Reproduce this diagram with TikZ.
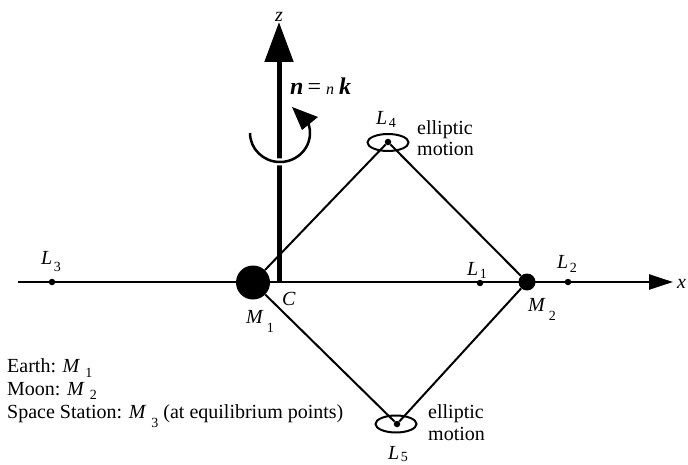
\documentclass[tikz,border=0pt]{standalone}
\usepackage{fontspec}
\setmainfont{Liberation Serif}
\usetikzlibrary{arrows.meta,shapes.geometric}
\newcommand\sbx[3][4]{\kern#2pt\raisebox{-#1pt}{\fontsize{14}{14}\selectfont #3}}
\begin{document}
\begin{tikzpicture}[x=1pt,y=-1pt,
  txt/.style={inner sep=0pt, font=\fontsize{20}{23}\selectfont},
  dot/.style={circle, fill=black, inner sep=0pt, minimum size=6.5pt},
  mass/.style={circle, fill=black, inner sep=0pt},
  edgeln/.style={line width=2pt},
  orbit/.style={draw, ellipse, line width=2pt, minimum width=41pt, minimum height=17pt, inner sep=0pt}
]
\useasboundingbox (0,0) rectangle (688,465);
% axis coordinates
\coordinate (xs) at (18,282);
\coordinate (xe) at (673,282);
\coordinate (C) at (279,282);
\coordinate (ze) at (279,22);
% x axis
\draw[line width=2.5pt, -{Triangle[length=24pt,width=15pt]}] (xs) -- (xe);
% bodies and points
\node[mass, minimum size=34pt] (M1) at (253,282.5) {};
\node[mass, minimum size=17pt] (M2) at (527,282) {};
\node[dot] (L1) at (480,283) {};
\node[dot] (L2) at (568,282) {};
\node[dot] (L3) at (52,282) {};
\node[dot] (L4) at (388,142) {};
\node[dot] (L5) at (397,424) {};
% diamond
\draw[edgeln] (M1) -- (L4) -- (M2) -- (L5) -- (M1);
% orbits
\node[orbit] (E4) at (388,142.5) {};
\node[orbit] (E5) at (396,424) {};
% z axis
\draw[line width=5pt, -{Triangle[length=40pt,width=28pt]}] (C) -- (ze);
% rotation arrow
\draw[white, line width=7pt] (280,133) ++(110:30 and 29) arc[start angle=110, end angle=70, x radius=30, y radius=29];
\draw[line width=2.5pt] (250,133) arc[start angle=180, end angle=-20, x radius=30, y radius=29];
\fill (292,107) -- (318,117) -- (302,130) -- cycle;
% labels
\node[txt, anchor=base] (zl) at (279,22) {\textit{z}};
\node[txt, anchor=base west] (xl) at (677,288) {\textit{x}};
\node[txt, anchor=base west, font=\fontsize{24}{24}\selectfont] (nl) at (290,95) {\textbf{\textit{n}}\kern4pt=\kern5pt{\fontsize{16}{16}\selectfont\textit{n}}\kern5pt\textbf{\textit{k}}};
\node[txt, anchor=base west] (L3l) at (41,265) {\textit{L}\sbx[6]{1.5}{3}};
\node[txt, anchor=base west] (L1l) at (467,275) {\textit{L}\sbx[3]{1.5}{1}};
\node[txt, anchor=base west] (L2l) at (557,268) {\textit{L}\sbx[5]{1.5}{2}};
\node[txt, anchor=base west] (L4l) at (376,125) {\textit{L}\sbx[3]{1.5}{4}};
\node[txt, anchor=base west] (L5l) at (388,459) {\textit{L}\sbx[2]{1.5}{5}};
\node[txt, anchor=base west] (M1l) at (246,323) {\textit{M}\sbx[9]{3}{1}};
\node[txt, anchor=base west] (M2l) at (528,311) {\textit{M}\sbx[9]{3}{2}};
\node[txt, anchor=base west] (Cl) at (282,305) {\textit{C}};
\node[txt, anchor=base west] (el4) at (417,135) {elliptic};
\node[txt, anchor=base west] (mo4) at (417,156) {motion};
\node[txt, anchor=base west] (el5) at (428,418) {elliptic};
\node[txt, anchor=base west] (mo5) at (428,440) {motion};
\node[txt, anchor=base west] (leg1) at (7,372) {Earth: \textit{M}\sbx[5]{5}{1}};
\node[txt, anchor=base west] (leg2) at (7,395) {Moon: \textit{M}\sbx[4]{5}{2}};
\node[txt, anchor=base west] (leg3) at (7,418) {Space Station: \textit{M}\sbx[9]{5}{3}\ (at equilibrium points)};
\end{tikzpicture}
\end{document}
